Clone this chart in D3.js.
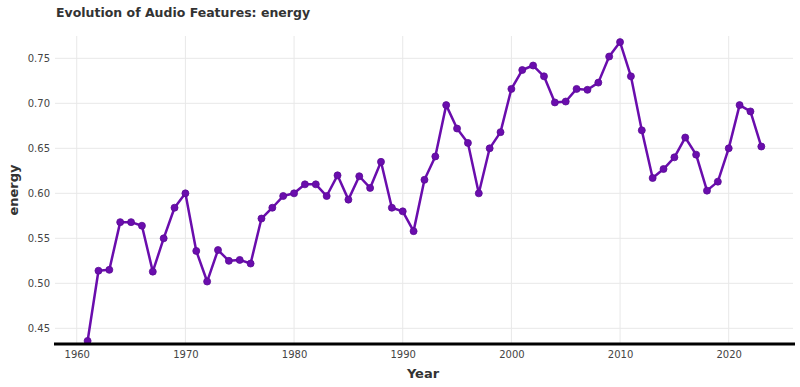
<!DOCTYPE html>
<html>
<head>
<meta charset="utf-8">
<script src="https://cdn.jsdelivr.net/npm/d3@7"></script>
<style>
  body { margin: 0; background: #fff; }
  text { font-family: "DejaVu Sans", sans-serif; }
</style>
</head>
<body>
<div id="chart"></div>
<script>
// chart size
var svgwdth = 800;
var svghght = 387;

// plot area
var margin = {top: 36, right: 5, bottom: 43, left: 55};
var width = svgwdth - margin.left - margin.right;
var height = svghght - margin.top - margin.bottom;

// data
var years = [1961, 1962, 1963, 1964, 1965, 1966, 1967, 1968, 1969, 1970,
  1971, 1972, 1973, 1974, 1975, 1976, 1977, 1978, 1979, 1980,
  1981, 1982, 1983, 1984, 1985, 1986, 1987, 1988, 1989, 1990,
  1991, 1992, 1993, 1994, 1995, 1996, 1997, 1998, 1999, 2000,
  2001, 2002, 2003, 2004, 2005, 2006, 2007, 2008, 2009, 2010,
  2011, 2012, 2013, 2014, 2015, 2016, 2017, 2018, 2019, 2020,
  2021, 2022, 2023];
var energy = [0.436, 0.514, 0.515, 0.568, 0.568, 0.564, 0.513, 0.550, 0.584, 0.600,
  0.536, 0.502, 0.537, 0.525, 0.526, 0.522, 0.572, 0.584, 0.597, 0.600,
  0.610, 0.610, 0.597, 0.620, 0.593, 0.619, 0.606, 0.635, 0.584, 0.580,
  0.558, 0.615, 0.641, 0.698, 0.672, 0.656, 0.600, 0.650, 0.668, 0.716,
  0.737, 0.742, 0.730, 0.701, 0.702, 0.716, 0.715, 0.723, 0.752, 0.768,
  0.730, 0.670, 0.617, 0.627, 0.640, 0.662, 0.643, 0.603, 0.613, 0.650,
  0.698, 0.691, 0.652];
var xTicks = [1960, 1970, 1980, 1990, 2000, 2010, 2020];
var yTicks = [0.45, 0.50, 0.55, 0.60, 0.65, 0.70, 0.75];

var dataset = years.map(function(y, i) { return {year: y, energy: energy[i]}; });

var svg = d3.select("#chart")
  .append("svg")
  .attr("width", svgwdth)
  .attr("height", svghght);

var chartGroup = svg.append("g")
  .attr("transform", `translate(${margin.left}, ${margin.top})`);

var xScale = d3.scaleLinear().domain([1958, 2026.1]).range([0, width]);
var yScale = d3.scaleLinear().domain([0.4326, 0.7748]).range([height, 0]);

// grid
chartGroup.append("g")
  .selectAll("line")
  .data(xTicks)
  .enter().append("line")
  .attr("x1", d => xScale(d)).attr("x2", d => xScale(d))
  .attr("y1", 0).attr("y2", height)
  .attr("stroke", "#e8e8e8").attr("stroke-width", 1);

chartGroup.append("g")
  .selectAll("line")
  .data(yTicks)
  .enter().append("line")
  .attr("x1", 0).attr("x2", width - 2)
  .attr("y1", d => yScale(d)).attr("y2", d => yScale(d))
  .attr("stroke", "#e8e8e8").attr("stroke-width", 1);

// axes
var bottomAxis = d3.axisBottom(xScale).tickValues(xTicks).tickSize(0).tickPadding(7).tickFormat(d3.format("d"));
var leftAxis = d3.axisLeft(yScale).tickValues(yTicks).tickSize(0).tickPadding(5).tickFormat(d3.format(".2f"));

var xAxis = chartGroup.append("g")
  .attr("transform", `translate(0, ${height})`)
  .call(bottomAxis);
xAxis.select(".domain").remove();
xAxis.selectAll("text").attr("font-size", "10px").attr("fill", "#444").attr("font-family", "DejaVu Sans");

var yAxis = chartGroup.append("g").call(leftAxis);
yAxis.select(".domain").remove();
yAxis.selectAll("text").attr("font-size", "10px").attr("fill", "#444").attr("font-family", "DejaVu Sans");

// line + markers
var line = d3.line().x(d => xScale(d.year)).y(d => yScale(d.energy));

chartGroup.append("path")
  .datum(dataset)
  .attr("d", line)
  .attr("fill", "none")
  .attr("stroke", "#6a0dad")
  .attr("stroke-width", 2.5)
  .attr("stroke-linejoin", "round");

chartGroup.selectAll("circle")
  .data(dataset)
  .enter().append("circle")
  .attr("cx", d => xScale(d.year))
  .attr("cy", d => yScale(d.energy))
  .attr("r", 3.5)
  .attr("fill", "#6a0dad")
  .attr("stroke", "#5a0b95")
  .attr("stroke-width", 0.8);

// bottom axis line
chartGroup.append("line")
  .attr("x1", -1).attr("x2", width)
  .attr("y1", height).attr("y2", height)
  .attr("stroke", "#000").attr("stroke-width", 3);

// labels
svg.append("text")
  .attr("x", 56).attr("y", 17)
  .attr("font-size", "12.5px").attr("font-weight", "bold")
  .attr("fill", "#333")
  .text("Evolution of Audio Features: energy");

svg.append("text")
  .attr("x", margin.left + width / 2 - 2).attr("y", 378)
  .attr("text-anchor", "middle")
  .attr("font-size", "13px").attr("font-weight", "bold")
  .attr("fill", "#333")
  .text("Year");

svg.append("text")
  .attr("transform", "rotate(-90)")
  .attr("x", -190).attr("y", 18)
  .attr("text-anchor", "middle")
  .attr("font-size", "13px").attr("font-weight", "bold")
  .attr("fill", "#333")
  .text("energy");
</script>
</body>
</html>
